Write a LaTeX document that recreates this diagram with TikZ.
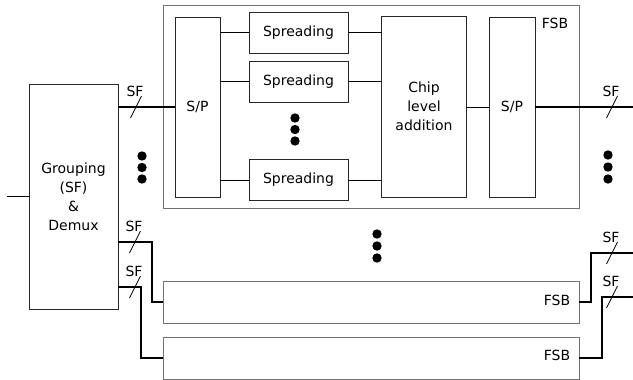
\documentclass[tikz,border=0pt]{standalone}
\usepackage{fontspec}
\setmainfont{DejaVu Sans}
\begin{document}
\begin{tikzpicture}[x=1pt,y=-1pt,
  every node/.style={font=\fontsize{14}{19}\selectfont, inner sep=0pt, outer sep=0pt},
  blk/.style={draw=black!85, line width=0.9pt, align=center},
  outer/.style={draw=black!55, line width=0.9pt},
  thin/.style={line width=0.8pt},
  thickline/.style={line width=2.2pt},
  lbl/.style={},
  dot/.style={fill=black},
  sfmark/.pic={\draw[line width=0.8pt] (-5.5,11) -- (5.5,-11); \node[lbl] (-t) at (-1,-16) {SF};}
]
\useasboundingbox (0,0) rectangle (633,380);
% outer FSB boxes
\node[outer, minimum width=416pt, minimum height=203pt] (fsb1) at (371,106.5) {};
\node[outer, minimum width=416pt, minimum height=42pt] (fsb2) at (371,302) {};
\node[outer, minimum width=416pt, minimum height=42pt] (fsb3) at (371,358) {};
\node[lbl] (f1) at (555,23) {FSB};
\node[lbl] (f2) at (557,300) {FSB};
\node[lbl] (f3) at (557,355) {FSB};
% grouping
\node[blk, minimum width=89pt, minimum height=225pt] (grp) at (73.5,196.5) {Grouping\\(SF)\\\&\\Demux};
% inner blocks
\node[blk, minimum width=45pt, minimum height=180pt] (sp1) at (197.5,107) {S/P};
\node[blk, minimum width=99pt, minimum height=41pt] (spr1) at (298.5,32.5) {Spreading};
\node[blk, minimum width=99pt, minimum height=41pt] (spr2) at (298.5,81.5) {Spreading};
\node[blk, minimum width=99pt, minimum height=41pt] (spr3) at (298.5,180) {Spreading};
\node[blk, minimum width=85pt, minimum height=181pt] (chip) at (424,106.5) {Chip\\level\\addition};
\node[blk, minimum width=46pt, minimum height=180pt] (sp2) at (512,107) {S/P};
% coordinates
\coordinate (in) at (7,196.5);
\coordinate (o1) at (633,107);
\coordinate (o2) at (633,253);
\coordinate (o3) at (633,297);
% connectors
\draw[thin] (in) -- (grp.west |- in);
\draw[thickline] (grp.east |- sp1.west) -- (sp1.west);
\foreach \s in {spr1,spr2,spr3}{
  \draw[thin] (sp1.east |- \s.west) -- (\s.west);
  \draw[thin] (\s.east) -- (chip.west |- \s.east);
}
\draw[thin] (chip.east |- sp2.west) -- (sp2.west);
\draw[thickline] (sp2.east) -- (o1);
\draw[thickline] (grp.east |- 0,242) -- (152,242) |- (fsb2.west);
\draw[thickline] (grp.east |- 0,287) -- (141,287) |- (fsb3.west);
\draw[thickline] (fsb2.east) -| (591,253) -- (o2);
\draw[thickline] (fsb3.east) -| (602,297) -- (o3);
% SF marks
\pic (s1) at (136,107) {sfmark};
\pic (s2) at (135,242) {sfmark};
\pic (s3) at (135,287) {sfmark};
\pic (s4) at (612,107) {sfmark};
\pic (s5) at (612,253) {sfmark};
\pic (s6) at (612,297) {sfmark};
% dots
\foreach \y in {156,167.5,179} \fill[dot] (142,\y) circle (4.7pt);
\foreach \y in {155,167,179} \fill[dot] (608,\y) circle (4.7pt);
\foreach \y in {118,129.5,141} \fill[dot] (295,\y) circle (4.7pt);
\foreach \y in {234,246,258} \fill[dot] (377,\y) circle (4.7pt);
\end{tikzpicture}
\end{document}
